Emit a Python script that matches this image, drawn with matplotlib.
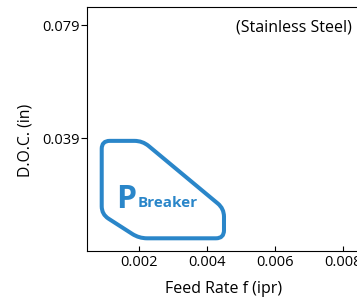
import numpy as np
import matplotlib
matplotlib.use('Agg')
import matplotlib.pyplot as plt
from matplotlib.path import Path
from matplotlib.patches import PathPatch

plt.rcParams['font.family'] = ['Open Sans', 'DejaVu Sans']

# 断屑槽适用范围 (进给量, 切深)
feed = [0.0009, 0.0021, 0.0045, 0.0045, 0.0020, 0.0009]
doc = [0.0380, 0.0380, 0.0140, 0.0035, 0.0035, 0.0120]
xticks = [0.002, 0.004, 0.006, 0.008]
yticks = [0.039, 0.079]
blue = '#2a86c9'

fig = plt.figure(figsize=(3.57, 2.99), dpi=100)
ax = fig.add_axes([0.244, 0.1605, 1.008 - 0.244, 0.9766 - 0.1605])
ax.set_xlim(0.00047, 0.0085)
ax.set_ylim(-0.001, 0.0854)

# 圆角多边形 (在像素空间里圆角)
fig.canvas.draw()
pts = ax.transData.transform(np.column_stack([feed, doc]))
r = 8.0
verts, codes = [], []
n = len(pts)
for i in range(n):
    p0, p1, p2 = pts[i - 1], pts[i], pts[(i + 1) % n]
    d0 = (p0 - p1) / np.linalg.norm(p0 - p1)
    d1 = (p2 - p1) / np.linalg.norm(p2 - p1)
    a = p1 + d0 * r
    b = p1 + d1 * r
    verts += [a, p1, b]
    codes += [Path.MOVETO if i == 0 else Path.LINETO, Path.CURVE3, Path.CURVE3]
verts.append(verts[0])
codes.append(Path.CLOSEPOLY)
inv = ax.transData.inverted()
path = Path(inv.transform(np.array(verts)), codes)
ax.add_patch(PathPatch(path, facecolor='none', edgecolor=blue, lw=2.9, joinstyle='round'))

ax.text(0.00132, 0.0142, 'P', color=blue, fontsize=23, fontweight='bold')
ax.text(0.00197, 0.0146, 'Breaker', color=blue, fontsize=11, fontweight='bold')
ax.text(0.972, 0.914, '(Stainless Steel)', transform=ax.transAxes, ha='right', va='center', fontsize=11.5)

ax.set_xticks(xticks)
ax.set_xticklabels(['%.3f' % v for v in xticks])
ax.set_yticks(yticks)
ax.set_yticklabels(['%.3f' % v for v in yticks])
ax.tick_params(axis='x', direction='in', labelsize=10.5, pad=3)
ax.tick_params(axis='y', direction='out', labelsize=10.5, pad=1.5, length=4)
ax.spines['right'].set_visible(False)

ax.set_xlabel('Feed Rate f (ipr)', fontsize=11.5)
ax.set_ylabel('D.O.C. (in)', fontsize=11.3)
ax.xaxis.set_label_coords(0.5, -0.123)
ax.yaxis.set_label_coords(-0.195, 0.455)

fig.savefig('out.png', dpi=100)
